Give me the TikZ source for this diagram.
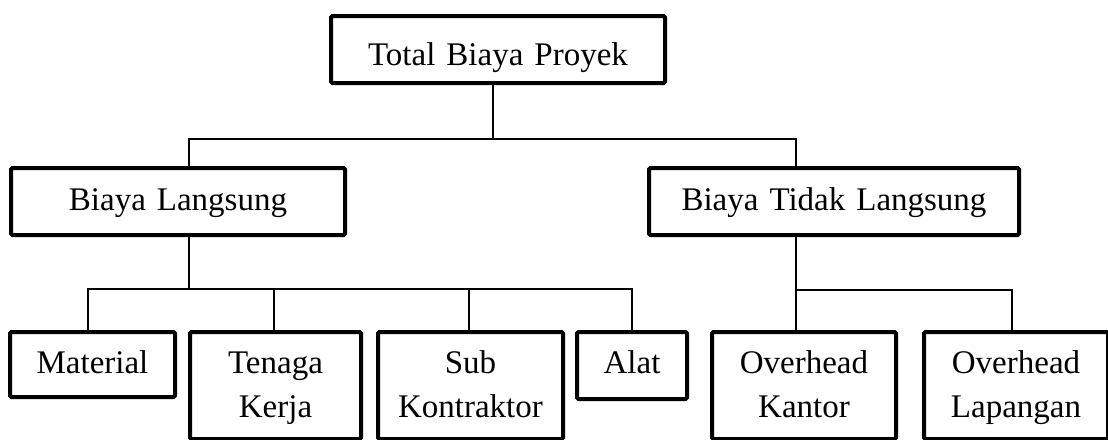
\documentclass[tikz,border=0pt]{standalone}
\usepackage{fontspec}
\setmainfont{Liberation Serif}
\begin{document}
\begin{tikzpicture}[x=1pt,y=-1pt,
  box/.style={draw, line width=4pt, rounded corners=1.5pt, inner sep=0pt, outer sep=0pt,
    align=center, anchor=north, font=\fontsize{33}{44}\selectfont},
  conn/.style={line width=1.3pt}]
\useasboundingbox (0,0) rectangle (1108,439);
% level 0
\node[box, text width=334pt, text height=49pt, text depth=18pt] (top) at (498,16) {Total Biaya Proyek};
% level 1
\node[box, text width=334pt, text height=42.7pt, text depth=24.3pt] (bl) at (178,168) {Biaya Langsung};
\node[box, text width=370pt, text height=42.7pt, text depth=24.3pt] (btl) at (834,168) {Biaya Tidak Langsung};
% level 2
\node[box, text width=165pt, text height=41pt, text depth=24pt] (mat) at (92.5,332) {Material};
\node[box, text width=171pt, text height=41pt, text depth=66pt] (ten) at (275.5,332) {Tenaga\\Kerja};
\node[box, text width=185pt, text height=41pt, text depth=66pt] (sub) at (470.5,332) {Sub\\Kontraktor};
\node[box, text width=110pt, text height=41pt, text depth=26pt] (alat) at (632,332) {Alat};
\node[box, text width=184pt, text height=41pt, text depth=66pt] (ok) at (804,332) {Overhead\\Kantor};
\node[box, text width=184pt, text height=41pt, text depth=66pt] (ol) at (1016,332) {Overhead\\Lapangan};
% junctions
\coordinate (j0) at (493,139);
\coordinate (j1) at (189,289);
\coordinate (j2) at (796,290);
% connectors
\draw[conn] ([xshift=-5pt]top.south) -- (j0);
\draw[conn] ([xshift=11pt]bl.north) |- (j0) -| ([xshift=-38pt]btl.north);
\draw[conn] ([xshift=11pt]bl.south) -- (j1);
\draw[conn] ([xshift=-4.5pt]mat.north) |- (j1) -| (alat.north);
\draw[conn] ([xshift=-1.5pt]ten.north) -- ([xshift=-1.5pt]ten.north |- j1);
\draw[conn] ([xshift=-1.5pt]sub.north) -- ([xshift=-1.5pt]sub.north |- j1);
\draw[conn] ([xshift=-38pt]btl.south) -- ([xshift=-8pt]ok.north);
\draw[conn] (j2) -| ([xshift=-4pt]ol.north);
\end{tikzpicture}
\end{document}
